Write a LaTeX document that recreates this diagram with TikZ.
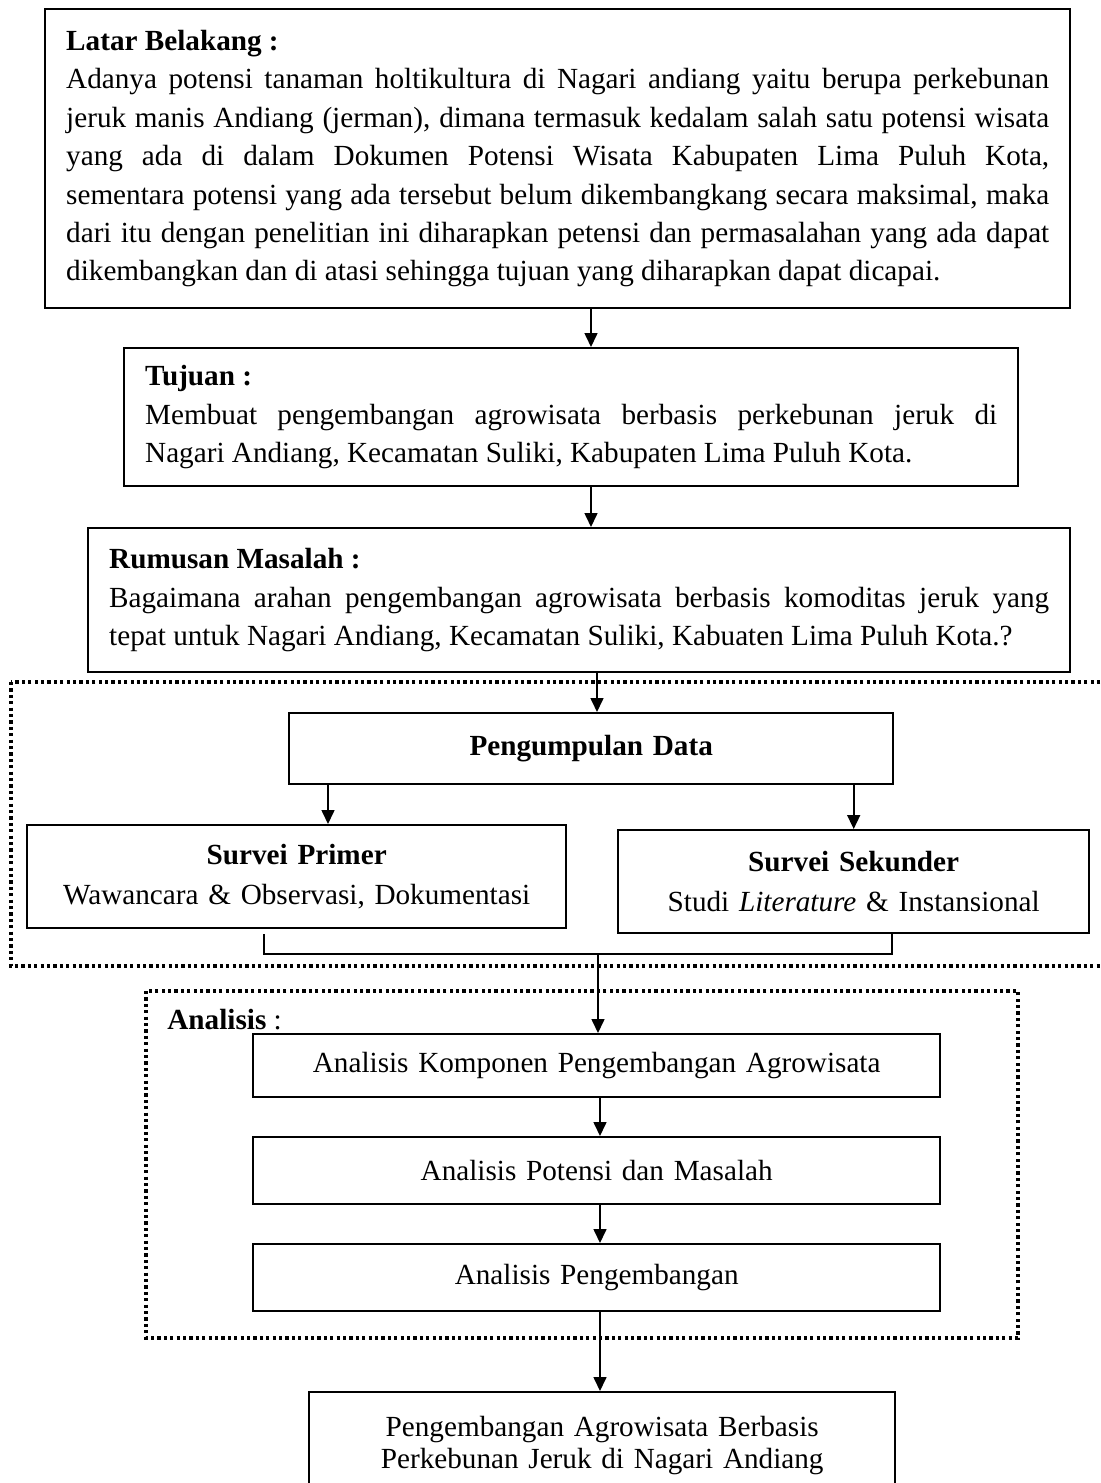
\documentclass[tikz,border=0pt]{standalone}
\usepackage{fontspec}
\setmainfont{Liberation Serif}
\usetikzlibrary{arrows.meta}

\begin{document}
\begin{tikzpicture}[x=0.5pt,y=-0.5pt,
    box/.style={draw,line width=1.2pt,anchor=north west,
      inner xsep=10.5pt,inner ysep=0pt,
      font=\fontsize{14.6}{19.2}\selectfont},
    parbox/.style={box,align=justify},
    midbox/.style={box,align=center},
    arr/.style={line width=0.8pt,-{Triangle[length=7pt,width=6.5pt]}},
    dotbox/.style={line width=1.6pt,dash pattern=on 1.6pt off 1.6pt}]

    \useasboundingbox (0,0) rectangle (1100,1483);

    % dotted frames
    \draw[dotbox] (11,682) rectangle (1110,966);
    \draw[dotbox] (146,991) rectangle (1018,1338);

    % Latar belakang, tujuan, rumusan
    \node[parbox,minimum width=512.5pt,text width=491.5pt,minimum height=149.5pt]
      (lb) at (44,8)
      {\textbf{Latar Belakang :}\\
      Adanya potensi tanaman holtikultura di Nagari andiang yaitu berupa perkebunan\linebreak
      jeruk manis Andiang (jerman), dimana termasuk kedalam salah satu potensi wisata\linebreak
      yang ada di dalam Dokumen Potensi Wisata Kabupaten Lima Puluh Kota,\linebreak
      sementara potensi yang ada tersebut belum dikembangkang secara maksimal, maka\linebreak
      dari itu dengan penelitian ini diharapkan petensi dan permasalahan yang ada dapat\linebreak
      dikembangkan dan di atasi sehingga tujuan yang diharapkan dapat dicapai.};
    \node[parbox,minimum width=447pt,text width=426pt,minimum height=69pt]
      (tj) at (123,347)
      {\textbf{Tujuan :}\\
      Membuat pengembangan agrowisata berbasis perkebunan jeruk di\linebreak
      Nagari Andiang, Kecamatan Suliki, Kabupaten Lima Puluh Kota.};
    \node[parbox,minimum width=491pt,text width=470pt,minimum height=72pt]
      (rm) at (87,527)
      {\textbf{Rumusan Masalah :}\\
      Bagaimana arahan pengembangan agrowisata berbasis komoditas jeruk yang\linebreak
      tepat untuk Nagari Andiang, Kecamatan Suliki, Kabuaten Lima Puluh Kota.?};

    % pengumpulan data
    \node[midbox,minimum width=302pt,text width=281pt,minimum height=35.5pt]
      (pd) at (288,712) {\textbf{Pengumpulan Data}};
    \node[midbox,minimum width=269.5pt,text width=248.5pt,minimum height=51.5pt,
      font=\fontsize{14.6}{20}\selectfont]
      (sp) at (26,824) {\textbf{Survei Primer}\\Wawancara \& Observasi, Dokumentasi};
    \node[midbox,minimum width=235.5pt,text width=214.5pt,minimum height=51.5pt,
      font=\fontsize{14.6}{20}\selectfont]
      (ss) at (617,829) {\textbf{Survei Sekunder}\\Studi \textit{Literature} \& Instansional};

    % analisis
    \node[anchor=west,inner sep=0pt,font=\fontsize{14.6}{19.2}\selectfont]
      (an) at (167,1020) {\textbf{Analisis} :};
    \node[midbox,minimum width=343.5pt,text width=322.5pt,minimum height=31.5pt]
      (ak) at (252,1033) {Analisis Komponen Pengembangan Agrowisata};
    \node[midbox,minimum width=343.5pt,text width=322.5pt,minimum height=33.5pt]
      (apm) at (252,1136) {Analisis Potensi dan Masalah};
    \node[midbox,minimum width=343.5pt,text width=322.5pt,minimum height=33.5pt]
      (ap) at (252,1243) {Analisis Pengembangan};

    % hasil
    \node[midbox,minimum width=293pt,text width=272pt,minimum height=53pt,
      font=\fontsize{14.6}{16}\selectfont]
      (fin) at (308,1391) {Pengembangan Agrowisata Berbasis\\Perkebunan Jeruk di Nagari Andiang};

    % arrows
    \coordinate (ax1) at (591,0);
    \coordinate (ax2) at (597,0);
    \coordinate (ax3) at (328,0);
    \coordinate (ax4) at (600,0);
    \coordinate (jl) at (264,954);
    \coordinate (jr) at (892,954);
    \coordinate (jm) at (598,954);
    \draw[arr] (lb.south -| ax1) -- (tj.north -| ax1);
    \draw[arr] (tj.south -| ax1) -- (rm.north -| ax1);
    \draw[arr] (rm.south -| ax2) -- (pd.north -| ax2);
    \draw[arr] (pd.south -| ax3) -- (sp.north -| ax3);
    \draw[arr] (pd.south -| ss.north) -- (ss.north);
    \draw[line width=0.8pt] (jl |- ss.south) -- (jl) -- (jr) -- (jr |- ss.south);
    \draw[arr] (jm) -- (ak.north -| jm);
    \draw[arr] (ak.south -| ax4) -- (apm.north -| ax4);
    \draw[arr] (apm.south -| ax4) -- (ap.north -| ax4);
    \draw[arr] (ap.south -| ax4) -- (fin.north -| ax4);

\end{tikzpicture}
\end{document}
